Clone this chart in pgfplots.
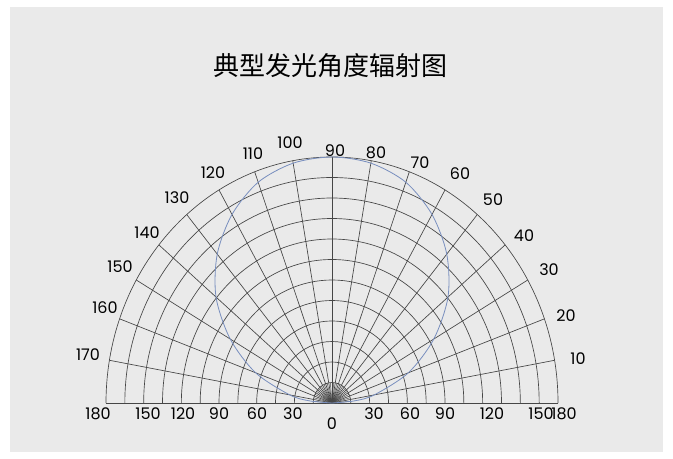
\documentclass[border=0pt]{standalone}
\usepackage{pgfplots}
\pgfplotsset{compat=1.18}
\usepackage{pgfplotstable}
\usepackage{fontspec}
\setmainfont{Poppins}
\newfontfamily\cjk{Noto Sans CJK SC}
\definecolor{panelc}{RGB}{234,234,234}
\definecolor{gridc}{RGB}{70,70,70}
\definecolor{curvec}{RGB}{120,142,190}
\pgfplotstableread{
a r
0 0
5 0.10
10 0.19
20 0.36
30 0.52
40 0.67
50 0.79
60 0.885
70 0.955
80 0.99
90 1.0
100 0.99
110 0.955
120 0.885
130 0.79
140 0.67
150 0.52
160 0.36
170 0.19
175 0.10
180 0
}\radtab
\begin{document}
\begin{tikzpicture}[x=0.75pt,y=-0.75pt]
\fill[white] (0,0) rectangle (673,459);
\fill[panelc] (10,7) rectangle (663,452);
\coordinate (O) at (332,403);
\begin{scope}[shift={(332,403)}, x={(169.5pt,0pt)}, y={(0pt,184.5pt)}]
\foreach \a in {10,20,...,170} \draw[gridc, line width=0.5pt] (0,0) -- (\a:1);
\foreach \a in {5,15,...,175} \draw[gridc, line width=0.35pt] (0,0) -- (\a:0.08333);
\foreach \k in {1,...,12} \draw[gridc, line width=0.5pt] (\k/12,0) arc[start angle=0,end angle=180,radius=\k/12];
\draw[gridc, line width=0.6pt] (-1,0) -- (1,0);
\end{scope}
\foreach \lab/\px/\py in {10/578/359, 20/566/316, 30/549/270, 40/524/236, 50/493/200, 60/460/174, 70/420/163, 80/376/153, 90/335/151, 100/290/143, 110/253/154, 120/213/173, 130/177/198, 140/147/233, 150/120/267, 160/105/308, 170/88/355}
  \node[font=\fontsize{12}{12}\selectfont, inner sep=0pt] at (\px,\py) {\lab};
\node[font=\cjk\fontsize{19.5}{20}\selectfont, inner sep=0pt] at (330,66) {典型发光角度辐射图};
\begin{axis}[at={(O)}, anchor=origin, x=169.5pt, y=184.5pt,
  xmin=-1.06, xmax=1.06, ymin=0, ymax=1, clip=false,
  axis line style={draw=none}, major tick length=0pt,
  ytick=\empty,
  xtick={-1.035,-0.814,-0.659,-0.5,-0.332,-0.173,0.186,0.345,0.5,0.708,0.925,1.027},
  xticklabels={180,150,120,90,60,30,30,60,90,120,150,180},
  xticklabel style={font=\fontsize{12}{12}\selectfont, inner sep=0pt, yshift=-3pt},
  extra x ticks={0}, extra x tick labels={0},
  extra x tick style={xticklabel style={yshift=-7.5pt}},
  /pgf/number format/assume math mode=true,
]
\addplot[curvec, line width=0.6pt, smooth] table[x expr={\thisrow{r}*cos(\thisrow{a})}, y expr={\thisrow{r}*sin(\thisrow{a})}] {\radtab};
\end{axis}
\end{tikzpicture}
\end{document}
